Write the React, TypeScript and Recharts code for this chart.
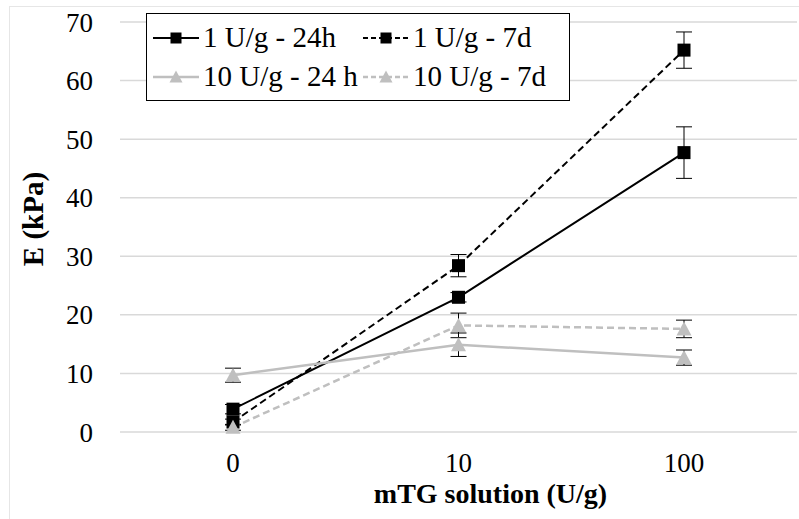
import React from 'react';
import {
  LineChart, Line, XAxis, YAxis, CartesianGrid, ErrorBar, Label,
} from 'recharts';

// mTG concentration categories (U/g)
const categories = ['0', '10', '100'];

// E (kPa)
const oneU24h = [3.9, 23.0, 47.7];
const oneU24hErr = [0.8, 0.8, 4.4];
const oneU7d = [1.7, 28.4, 65.2];
const oneU7dErr = [0.5, 1.9, 3.1];
const tenU24h = [9.7, 14.9, 12.7];
const tenU24hErr = [1.2, 2.0, 1.3];
const tenU7d = [0.8, 18.2, 17.6];
const tenU7dErr = [0.5, 2.1, 1.5];

const yTicks = [0, 10, 20, 30, 40, 50, 60, 70];

const BLACK = '#000000';
const GRAY = '#bfbfbf';
const FONT = "'Liberation Serif', 'DejaVu Serif', serif";

interface SeriesDef {
  key: string;
  errKey: string;
  label: string;
  color: string;
  dashed: boolean;
  shape: 'square' | 'triangle';
}

const SERIES: SeriesDef[] = [
  { key: 'a', errKey: 'aErr', label: '1 U/g - 24h', color: BLACK, dashed: false, shape: 'square' },
  { key: 'b', errKey: 'bErr', label: '1 U/g - 7d', color: BLACK, dashed: true, shape: 'square' },
  { key: 'c', errKey: 'cErr', label: '10 U/g - 24 h', color: GRAY, dashed: false, shape: 'triangle' },
  { key: 'd', errKey: 'dErr', label: '10 U/g - 7d', color: GRAY, dashed: true, shape: 'triangle' },
];

const data = categories.map((name, i) => ({
  name,
  a: oneU24h[i], aErr: oneU24hErr[i],
  b: oneU7d[i], bErr: oneU7dErr[i],
  c: tenU24h[i], cErr: tenU24hErr[i],
  d: tenU7d[i], dErr: tenU7dErr[i],
}));

const Marker = ({ cx, cy, shape, color, size = 13 }: any) => {
  if (cx == null || cy == null) return null;
  const h = size / 2;
  if (shape === 'square') {
    return <rect x={cx - h} y={cy - h} width={size} height={size} fill={color} />;
  }
  const w = size + 2;
  return (
    <polygon
      points={`${cx},${cy - h - 1} ${cx + w / 2},${cy + h} ${cx - w / 2},${cy + h}`}
      fill={color}
    />
  );
};

const LegendIcon = ({ s }: { s: SeriesDef }) => (
  <svg width={46} height={20} style={{ display: 'block' }}>
    <line
      x1={0} y1={10} x2={46} y2={10}
      stroke={s.color}
      strokeWidth={s.color === BLACK ? 2 : 2.5}
      strokeDasharray={s.dashed ? '5 3' : undefined}
    />
    <Marker cx={23} cy={10} shape={s.shape} color={s.color} size={11} />
  </svg>
);

const ChartLegend = () => (
  <div
    style={{
      position: 'absolute', left: 146, top: 13, width: 422, height: 82,
      border: '1px solid #000', background: '#fff', boxSizing: 'content-box',
      display: 'grid', gridTemplateColumns: '216px 206px', gridAutoRows: '39px',
      paddingTop: 4, fontFamily: FONT, fontSize: 29, lineHeight: '39px', color: '#000',
    }}
  >
    {SERIES.map((s, i) => (
      <div key={s.key} style={{ display: 'flex', alignItems: 'center', paddingLeft: i % 2 === 0 ? 6 : 0, whiteSpace: 'nowrap' }}>
        <LegendIcon s={s} />
        <span style={{ marginLeft: 4, color: '#000', fontFamily: FONT }}>{s.label}</span>
      </div>
    ))}
  </div>
);

export default function App() {
  return (
    <div style={{ position: 'absolute', left: 0, top: 0, width: 799, height: 519, background: '#fff', overflow: 'hidden', fontFamily: FONT }}>
      <div style={{ position: 'absolute', left: 9, top: 6, width: 800, height: 520, borderLeft: '1.5px solid #e6e6e6', borderTop: '1.5px solid #e6e6e6' }} />
      <LineChart width={799} height={519} data={data} margin={{ top: 22, right: 2, left: 0, bottom: 0 }} style={{ fontFamily: FONT }}>
        <CartesianGrid vertical={false} stroke="#d9d9d9" strokeWidth={1.5} />
        <XAxis
          dataKey="name"
          height={87}
          padding={{ left: 113, right: 113 }}
          axisLine={false}
          tickLine={false}
          tickSize={0}
          tickMargin={21}
          tick={{ fontFamily: FONT, fontSize: 27, fill: '#000' }}
        >
          <Label
            value="mTG solution (U/g)"
            position="insideBottom"
            offset={16}
            dx={32}
            fontFamily={FONT}
            style={{ fontFamily: FONT, fontSize: 28, fontWeight: 'bold', fill: '#000' }}
          />
        </XAxis>
        <YAxis
          width={120}
          domain={[0, 70]}
          ticks={yTicks}
          axisLine={false}
          tickLine={false}
          tickSize={0}
          tickMargin={27}
          tick={{ fontFamily: FONT, fontSize: 27, fill: '#000' }}
        >
          <Label
            content={(p: any) => {
              const vb = p.viewBox || { x: 0, y: 0, height: 0 };
              const x = vb.x + 33;
              const y = vb.y + vb.height / 2 - 8;
              return (
                <text
                  x={x} y={y}
                  transform={`rotate(-90, ${x}, ${y})`}
                  textAnchor="middle"
                  dominantBaseline="central"
                  fontFamily={FONT}
                  style={{ fontFamily: FONT, fontSize: 29, fontWeight: 'bold', fill: '#000' }}
                >
                  E (kPa)
                </text>
              );
            }}
          />
        </YAxis>
        {SERIES.map((s) => (
          <Line
            key={s.key}
            dataKey={s.key}
            name={s.label}
            type="linear"
            stroke={s.color}
            strokeWidth={s.color === BLACK ? 2 : 2.5}
            strokeDasharray={s.dashed ? '7 4' : undefined}
            dot={(p: any) => <Marker key={`${s.key}-${p.index}`} cx={p.cx} cy={p.cy} shape={s.shape} color={s.color} />}
            activeDot={false}
            isAnimationActive={false}
          >
            <ErrorBar dataKey={s.errKey} width={8} stroke="#000" strokeWidth={1} direction="y" />
          </Line>
        ))}
      </LineChart>
      <ChartLegend />
    </div>
  );
}
